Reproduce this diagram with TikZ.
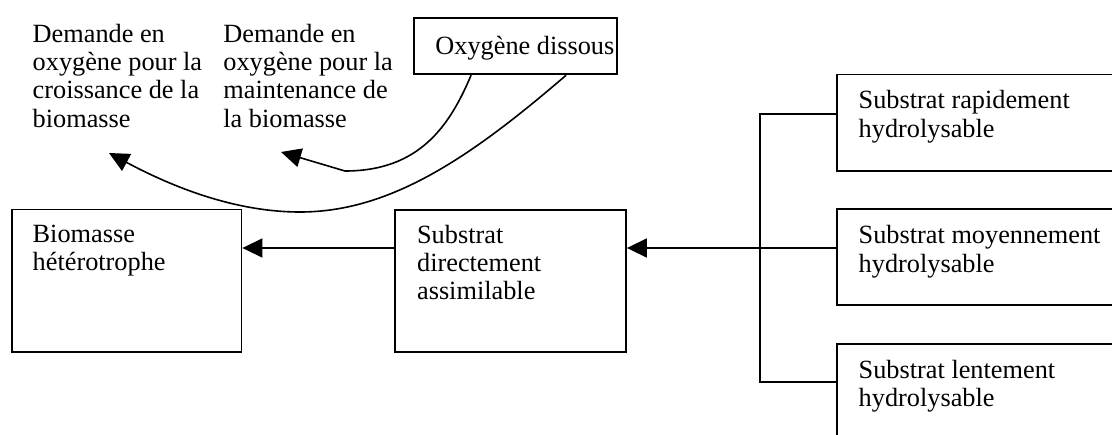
\documentclass[tikz,border=0pt]{standalone}
\usepackage{fontspec}
\setmainfont{Liberation Serif}
\usetikzlibrary{arrows.meta,calc,fit}
\begin{document}
\begin{tikzpicture}[x=0.5pt,y=-0.5pt,
  box/.style={draw,line width=0.9pt,rectangle,inner sep=0pt},
  txt/.style={anchor=north west,inner sep=0pt,align=left,font=\fontsize{13.15pt}{14.15pt}\selectfont},
  conn/.style={line width=0.8pt},
  arr/.style={line width=0.8pt,-{Triangle[length=10pt,width=9.5pt]}}]
\clip (0,0) rectangle (1112,434);
% boxes
\node[box,fit={(414,18.3) (617,74.3)}] (oxy) {};
\node[box,fit={(11.7,209.5) (241.5,352.3)}] (bio) {};
\node[box,fit={(395,210) (626,352.3)}] (sda) {};
\node[box,fit={(837,74.5) (1130,171)}] (r1) {};
\node[box,fit={(837,209) (1130,305)}] (r2) {};
\node[box,fit={(837,344) (1130,450)}] (r3) {};
% texts
\node[txt] (d1) at (32.3,23.7) {Demande en\\oxygène pour la\\croissance de la\\biomasse};
\node[txt] (d2) at (223,23.7) {Demande en\\oxygène pour la\\maintenance de\\la biomasse};
\node[txt] (toxy) at (435,36) {Oxygène dissous};
\node[txt] (tbio) at (32.3,224.7) {Biomasse\\hétérotrophe};
\node[txt] (tsda) at (416.7,224.7) {Substrat\\directement\\assimilable};
\node[txt] (tr1) at (858.3,90.3) {Substrat rapidement\\hydrolysable};
\node[txt] (tr2) at (858.3,225.3) {Substrat moyennement\\hydrolysable};
\node[txt] (tr3) at (858.3,360) {Substrat lentement\\hydrolysable};
% connectors
\coordinate (j) at (760,248);
\coordinate (j1) at (760,114);
\coordinate (j3) at (760,382);
\coordinate (t1) at (281,152);
\coordinate (t2) at (109,153);
\draw[conn] (j1 -| r1.west) -- (j1) -- (j3) -- (j3 -| r3.west);
\draw[arr] (j -| r2.west) -- (j -| sda.east);
\draw[arr] (j -| sda.west) -- (j -| bio.east);
\draw[arr] ([xshift=29pt]oxy.south west) .. controls (450,125) and (420,171) .. (345,171) -- (t1);
\draw[arr] ([xshift=76.5pt]oxy.south west) .. controls (470,158) and (390,212) .. (300,212) .. controls (230,212) and (165,183) .. (t2);
\end{tikzpicture}
\end{document}
